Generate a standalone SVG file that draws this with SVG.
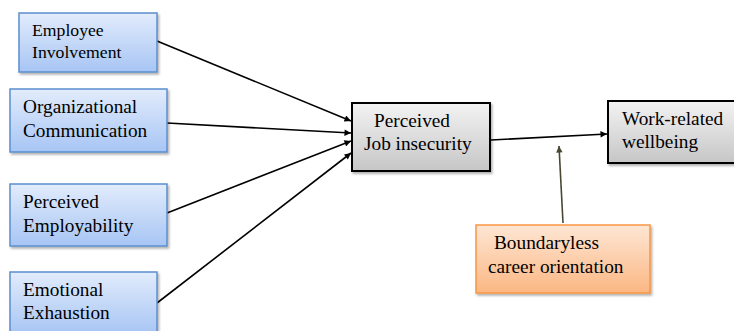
<svg xmlns="http://www.w3.org/2000/svg" width="734" height="331" viewBox="0 0 734 331">
<defs>
<linearGradient id="gBlue" x1="0" y1="0" x2="0" y2="1"><stop offset="0" stop-color="#e2ecfc"/><stop offset="1" stop-color="#a7c5f4"/></linearGradient>
<linearGradient id="gGrey" x1="0" y1="0" x2="0" y2="1"><stop offset="0" stop-color="#f3f3f3"/><stop offset="1" stop-color="#c6c6c6"/></linearGradient>
<linearGradient id="gOrange" x1="0" y1="0" x2="0" y2="1"><stop offset="0" stop-color="#fee6d4"/><stop offset="1" stop-color="#fbb783"/></linearGradient>
<filter id="sh" x="-10%" y="-10%" width="130%" height="140%"><feDropShadow dx="1.5" dy="2" stdDeviation="1.2" flood-color="#000" flood-opacity="0.3"/></filter>
<marker id="ah" viewBox="0 0 10 10" refX="10" refY="5" markerWidth="7.5" markerHeight="6.5" markerUnits="userSpaceOnUse" orient="auto"><path d="M0,0 L10,5 L0,10 z" fill="#000"/></marker>
<marker id="ahm" viewBox="0 0 10 10" refX="10" refY="5" markerWidth="7.5" markerHeight="6.5" markerUnits="userSpaceOnUse" orient="auto"><path d="M0,0 L10,5 L0,10 z" fill="#4a4734"/></marker>
</defs>
<style>
.blue{fill:url(#gBlue);stroke:#5b8ed0;stroke-width:1.5;filter:url(#sh)}
.grey{fill:url(#gGrey);stroke:#000;stroke-width:2;filter:url(#sh)}
.orange{fill:url(#gOrange);stroke:#f79646;stroke-width:1.5;filter:url(#sh)}
text{font-family:"Liberation Serif","Times New Roman",serif;font-size:19.3px;fill:#000}
.sm{font-size:17.7px}
.c{stroke:#000;stroke-width:1.6;fill:none}
</style>
<g id="connectors">
<line class="c" x1="157" y1="41" x2="351" y2="121" marker-end="url(#ah)"/>
<line class="c" x1="167" y1="123" x2="351" y2="133" marker-end="url(#ah)"/>
<line class="c" x1="167" y1="213" x2="351" y2="141" marker-end="url(#ah)"/>
<line class="c" x1="157" y1="303" x2="351" y2="153" marker-end="url(#ah)"/>
<line class="c" x1="491" y1="140" x2="607" y2="134" marker-end="url(#ah)"/>
<line x1="563" y1="223" x2="559" y2="146" stroke="#4a4734" stroke-width="1.6" marker-end="url(#ahm)"/>
</g>
<g id="n-employee-involvement">
<rect class="blue" x="19" y="13" width="138" height="59"/>
<text class="sm" x="32" y="36">Employee</text>
<text class="sm" x="32" y="58">Involvement</text>
</g>
<g id="n-organizational-communication">
<rect class="blue" x="10" y="89" width="157" height="63"/>
<text x="23" y="113">Organizational</text>
<text x="23" y="137">Communication</text>
</g>
<g id="n-perceived-employability">
<rect class="blue" x="10" y="184" width="157" height="62"/>
<text x="23" y="208">Perceived</text>
<text x="23" y="232">Employability</text>
</g>
<g id="n-emotional-exhaustion">
<rect class="blue" x="10" y="272" width="147" height="62"/>
<text x="23" y="296">Emotional</text>
<text x="23" y="319">Exhaustion</text>
</g>
<g id="n-perceived-job-insecurity">
<rect class="grey" x="352" y="103" width="138" height="68"/>
<text x="374" y="127">Perceived</text>
<text x="364" y="150">Job insecurity</text>
</g>
<g id="n-work-related-wellbeing">
<rect class="grey" x="608" y="101" width="127" height="62"/>
<text x="622" y="125">Work-related</text>
<text x="622" y="148">wellbeing</text>
</g>
<g id="n-boundaryless-career-orientation">
<rect class="orange" x="476" y="225" width="174" height="68"/>
<text x="494" y="249">Boundaryless</text>
<text x="488" y="273">career orientation</text>
</g>
</svg>
